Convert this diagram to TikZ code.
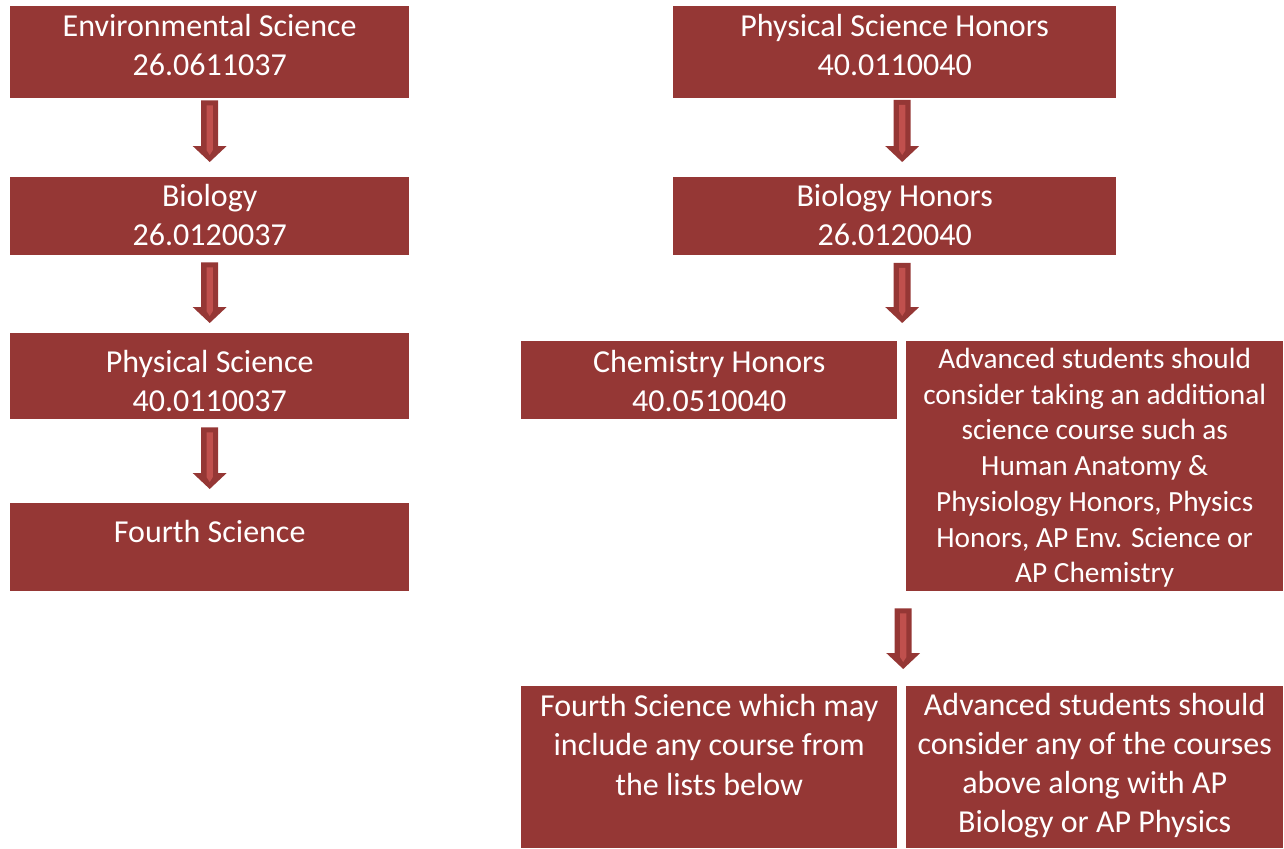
\documentclass[tikz,border=0pt]{standalone}
\usepackage{fontspec}
\setmainfont{Carlito}
\usetikzlibrary{calc}

\definecolor{boxred}{RGB}{149,55,53}
\definecolor{arrowlight}{RGB}{192,80,77}

% Fixed-size, top-aligned text block: width, height, first-baseline offset, text
\newcommand{\boxtxt}[4]{\parbox[c][#2pt][t]{#1pt}{\centering\rule{0pt}{#3pt}#4}}

% Block arrow from a start point straight down to a tip point
\newcommand{\blockarrow}[2]{%
  \fill[boxred] let \p1=(#1), \p2=(#2) in
      ({\x1-8.5pt},\y1) -- ({\x1+8.5pt},\y1) -- ({\x1+8.5pt},{\y2+16pt})
      -- ({\x1+17pt},{\y2+16pt}) -- (\x1,\y2) -- ({\x1-17pt},{\y2+16pt})
      -- ({\x1-8.5pt},{\y2+16pt}) -- cycle;
  \fill[arrowlight] let \p1=(#1), \p2=(#2) in
      ({\x1-3.2pt},{\y1-5pt}) -- ({\x1+3.2pt},{\y1-5pt}) -- ({\x1+3.2pt},{\y2+12pt})
      -- (\x1,{\y2+7pt}) -- ({\x1-3.2pt},{\y2+12pt}) -- cycle;
}

\tikzset{
  course/.style={fill=boxred, text=white, inner sep=0pt, anchor=north west,
    font=\fontsize{32}{39}\selectfont},
  coursesmall/.style={course, font=\fontsize{29.3}{35.7}\selectfont}
}

\begin{document}
\begin{tikzpicture}[x=1pt, y=-1pt]
\useasboundingbox (0,0) rectangle (1284,848);

% Standard sequence
\node[course] (env) at (10,6)
  {\boxtxt{399}{92}{30}{Environmental Science\\26.0611037}};
\node[course] (bio) at (10,177)
  {\boxtxt{399}{78}{29.5}{Biology\\26.0120037}};
\node[course] (phys) at (10,333)
  {\boxtxt{399}{86}{39.7}{Physical Science\\40.0110037}};
\node[course] (fourth) at (10,503)
  {\boxtxt{399}{88}{39.5}{Fourth Science}};

% Honors sequence
\node[course] (physh) at (673,6)
  {\boxtxt{443}{92}{30}{Physical Science Honors\\40.0110040}};
\node[course] (bioh) at (673,177)
  {\boxtxt{443}{78}{29.5}{Biology Honors\\26.0120040}};
\node[course] (chemh) at (521,341)
  {\boxtxt{376}{77.5}{31.7}{Chemistry Honors\\40.0510040}};
\node[coursesmall] (adv1) at (906,341)
  {\boxtxt{377}{250}{27.3}{Advanced students should\\consider taking an additional\\science course such as\\Human Anatomy \&\\Physiology Honors, Physics\\Honors, AP Env. Science or\\AP Chemistry}};
\node[course, font=\fontsize{32}{39.5}\selectfont] (fourthh) at (521,686)
  {\boxtxt{376}{162}{30}{Fourth Science which may\\include any course from\\the lists below}};
\node[course] (adv2) at (906,686)
  {\boxtxt{377}{162}{29}{Advanced students should\\consider any of the courses\\above along with AP\\Biology or AP Physics}};

% Arrow end points
\coordinate (a1s) at ([yshift=-2pt]env.south);
\coordinate (a1t) at ([yshift=15pt]bio.north);
\coordinate (a2s) at ([yshift=-7pt]bio.south);
\coordinate (a2t) at ([yshift=10pt]phys.north);
\coordinate (a3s) at ([yshift=-8pt]phys.south);
\coordinate (a3t) at ([yshift=14pt]fourth.north);

\coordinate (b1s) at ([xshift=7.5pt,yshift=-1.5pt]physh.south);
\coordinate (b1t) at ([xshift=7.5pt,yshift=15pt]bioh.north);
\coordinate (b2s) at ([xshift=7.5pt,yshift=-7.5pt]bioh.south);
\coordinate (b2t) at ([xshift=7.5pt,yshift=18pt]chemh.north -| physh.south);
\coordinate (b3s) at ([xshift=8.5pt,yshift=-17pt]adv1.south -| physh.south);
\coordinate (b3t) at ([xshift=8.5pt,yshift=17pt]adv2.north -| physh.south);

\blockarrow{a1s}{a1t}
\blockarrow{a2s}{a2t}
\blockarrow{a3s}{a3t}
\blockarrow{b1s}{b1t}
\blockarrow{b2s}{b2t}
\blockarrow{b3s}{b3t}
\end{tikzpicture}
\end{document}
